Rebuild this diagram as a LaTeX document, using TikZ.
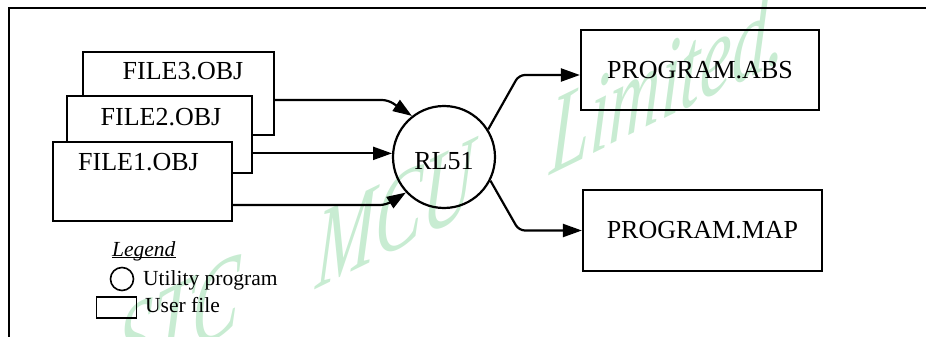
\documentclass[tikz,border=0pt]{standalone}
\usepackage{fontspec}
\setmainfont{Liberation Serif}
\usetikzlibrary{arrows.meta}
\definecolor{wmgreen}{RGB}{200,236,210}

\begin{document}
\begin{tikzpicture}[x=1pt,y=-1pt,
    >={Triangle[length=19pt,width=13pt]},
    every node/.style={font=\fontsize{26}{30}\selectfont},
    filebox/.style={draw,fill=white,line width=2.2pt,inner sep=0pt},
    outbox/.style={draw,line width=2.2pt,minimum width=238pt,minimum height=80pt},
    lbl/.style={inner sep=0pt,anchor=base},
    legendtext/.style={inner sep=0pt,anchor=base west,font=\fontsize{21.5}{24}\selectfont},
    flow/.style={->,line width=2.2pt,rounded corners=6pt}]
    \useasboundingbox (0,0) rectangle (926,337);

    % watermark
    \begin{scope}[shift={(116,387.5)}]
        \node[transform shape,cm={1,0.49,0.05,1.6,(0,0)},anchor=base west,inner sep=0pt,
              text=wmgreen,font=\fontsize{71}{80}\selectfont\itshape] (wmark) at (0,0)
              {STC\hspace{1.08em}MCU\hspace{1.08em}Limited.};
    \end{scope}

    % frame
    \draw[line width=2.4pt] (9,337) -- (9,8) -- (926,8);

    % object files, back to front
    \node[filebox,minimum width=191pt,minimum height=83pt] (f3) at (178.5,93.5) {};
    \node[lbl] (f3name) at ([xshift=4.5pt,yshift=-29pt]f3.north) {FILE3.OBJ};
    \node[filebox,minimum width=185pt,minimum height=77pt] (f2) at (159.5,134.5) {};
    \node[lbl] (f2name) at ([xshift=1.5pt,yshift=-31pt]f2.north) {FILE2.OBJ};
    \node[filebox,minimum width=179pt,minimum height=79pt] (f1) at (142.5,181.5) {};
    \node[lbl] (f1name) at ([xshift=-4pt,yshift=-30pt]f1.north) {FILE1.OBJ};

    % linker
    \node[draw,circle,line width=2.2pt,minimum size=102pt,inner sep=0pt,text height=26pt] (rl) at (444,157) {RL51};

    % outputs
    \node[outbox] (abs) at (700,70) {PROGRAM.ABS};
    \node[outbox,minimum width=239pt,minimum height=81pt] (map) at (702.5,230.5) {PROGRAM.MAP};

    % connectors
    \draw[flow] ([yshift=-6.5pt]f3.east) -- ++(113,0) -- (rl.128);
    \draw[flow] (rl.176 -| f2.east) -- (rl.176);
    \draw[flow] ([yshift=-23.5pt]f1.east) -- ++(153,0) -- (rl.223);
    \draw[flow] (rl.32) -- ([xshift=-61pt,yshift=-5pt]abs.west) -- ([yshift=-5pt]abs.west);
    \draw[flow] (rl.-27) -- ([xshift=-63pt]map.west) -- (map.west);

    % legend
    \node[legendtext] (legend) at (112,256) {\underline{\smash{\textit{Legend}}}};
    \node[draw,circle,line width=1.6pt,minimum size=23pt,inner sep=0pt] (lgcircle) at (122,279) {};
    \node[legendtext] (lgutil) at (143,285) {Utility program};
    \node[draw,line width=1.6pt,minimum width=40pt,minimum height=21pt,inner sep=0pt] (lgbox) at (116.5,307.5) {};
    \node[legendtext] (lgfile) at (145,312) {User file};
\end{tikzpicture}
\end{document}
